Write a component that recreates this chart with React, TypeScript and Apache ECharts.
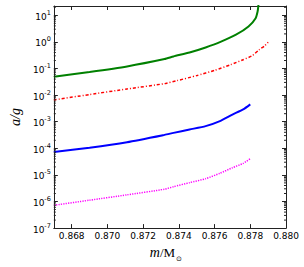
import React, { useEffect, useRef } from "react";
import * as echarts from "echarts";

// x: m / M_sun ; y: a/g (log scale)
const greenM = [0.867, 0.869, 0.8711, 0.8732, 0.8737, 0.8746, 0.8755, 0.8763, 0.8772, 0.8779, 0.8783, 0.87841, 0.87845, 0.87846];
const greenV = [0.049, 0.074, 0.12, 0.227, 0.284, 0.4, 0.62, 0.98, 1.86, 3.8, 7.8, 13.8, 22, 30];

const redM = [0.867, 0.869, 0.8711, 0.8732, 0.8739, 0.875, 0.876, 0.8769, 0.8776, 0.8781, 0.8785, 0.8788, 0.879];
const redV = [0.0066, 0.0105, 0.017, 0.027, 0.035, 0.054, 0.085, 0.139, 0.214, 0.3, 0.51, 0.71, 0.98];

const blueM = [0.867, 0.869, 0.8711, 0.8732, 0.8737, 0.8746, 0.8755, 0.8763, 0.877, 0.8776, 0.878];
const blueV = [7.2e-5, 1.05e-4, 1.7e-4, 3.2e-4, 3.8e-4, 5.1e-4, 6.8e-4, 1.05e-3, 1.86e-3, 2.9e-3, 4.5e-3];

const magentaM = [0.867, 0.869, 0.8711, 0.8732, 0.8737, 0.8746, 0.8755, 0.8763, 0.877, 0.8776, 0.878];
const magentaV = [7.2e-7, 1.12e-6, 1.78e-6, 2.9e-6, 3.6e-6, 5.1e-6, 7.2e-6, 1.15e-5, 1.86e-5, 2.7e-5, 4.1e-5];

const xMin = 0.867;
const xMax = 0.88;
const xStep = 0.002;
const yMinExp = -7;
const yMaxExp = 1.35;

const toPairs = (ms: number[], vs: number[]) => ms.map((m, i) => [m, Math.log10(vs[i])]);

export default function App() {
  const ref = useRef<HTMLDivElement>(null);
  useEffect(() => {
    if (!ref.current) return;
    const chart = echarts.init(ref.current, undefined, { renderer: "svg" });

    const minorTicks: number[][] = [];
    for (let n = yMinExp; n <= Math.floor(yMaxExp); n++) {
      for (let k = 2; k <= 9; k++) {
        const v = n + Math.log10(k);
        if (v < yMaxExp) minorTicks.push([xMin, v]);
      }
    }

    const axisLineStyle = { color: "#222", width: 1 };
    const baseX = {
      type: "value" as const,
      min: xMin,
      max: xMax,
      splitNumber: 6,
      minInterval: xStep,
      maxInterval: xStep,
      splitLine: { show: false },
      axisLine: { show: true, onZero: false, lineStyle: axisLineStyle },
      axisTick: { show: true, inside: true, length: 4, lineStyle: { color: "#222" } },
    };
    const baseY = {
      type: "value" as const,
      min: yMinExp,
      max: yMaxExp,
      interval: 1,
      splitLine: { show: false },
      axisLine: { show: true, onZero: false, lineStyle: axisLineStyle },
      axisTick: { show: true, inside: true, length: 4, lineStyle: { color: "#222" } },
    };

    const lineCommon = { showSymbol: false, smooth: 0.2, clip: true, xAxisIndex: 0, yAxisIndex: 0 };

    chart.setOption({
      animation: false,
      backgroundColor: "#fff",
      grid: { left: 40, right: 18, top: 6, bottom: 38, containLabel: false },
      xAxis: [
        {
          ...baseX,
          position: "bottom",
          name: "{i|m}{r|/M}{sub|⊙}",
          nameLocation: "middle",
          nameGap: 13,
          nameTextStyle: {
            padding: [0, 8, 0, 0],
            rich: {
              i: { fontFamily: "Liberation Serif", fontStyle: "italic", fontSize: 14, color: "#000", verticalAlign: "bottom" },
              r: { fontFamily: "Liberation Serif", fontSize: 13, color: "#000", verticalAlign: "bottom" },
              sub: { fontFamily: "DejaVu Sans", fontSize: 7, color: "#000", verticalAlign: "bottom", padding: [0, 0, -3, 1] },
            },
          },
          axisLabel: {
            show: true,
            showMinLabel: false,
            margin: 3,
            fontFamily: "DejaVu Sans",
            fontSize: 9,
            color: "#000",
            formatter: (v: number) => v.toFixed(3),
          },
        },
        {
          ...baseX,
          position: "top",
          axisLabel: { show: false },
        },
      ],
      yAxis: [
        {
          ...baseY,
          position: "left",
          name: "a/g",
          nameLocation: "middle",
          nameGap: 28,
          nameRotate: 90,
          nameTextStyle: { fontFamily: "Liberation Serif", fontStyle: "italic", fontSize: 14, color: "#000" },
          axisLabel: {
            show: true,
            showMaxLabel: false,
            margin: 3,
            formatter: (v: number) => `{b|10}{s|${Math.round(v)}}`,
            rich: {
              b: { fontFamily: "DejaVu Sans", fontSize: 9, color: "#000", verticalAlign: "bottom" },
              s: { fontFamily: "DejaVu Sans", fontSize: 6.5, color: "#000", verticalAlign: "bottom", padding: [0, 0, 5, 0] },
            },
          },
        },
        {
          ...baseY,
          position: "right",
          axisLabel: { show: false },
        },
      ],
      series: [
        {
          type: "custom",
          silent: true,
          xAxisIndex: 0,
          yAxisIndex: 0,
          data: minorTicks,
          z: 5,
          renderItem: (_params: any, api: any) => {
            const v = api.value(1);
            const l = api.coord([xMin, v]);
            const r = api.coord([xMax, v]);
            return {
              type: "group",
              children: [
                { type: "line", shape: { x1: l[0], y1: l[1], x2: l[0] + 2, y2: l[1] }, style: { stroke: "#222", lineWidth: 1 } },
                { type: "line", shape: { x1: r[0] - 2, y1: r[1], x2: r[0], y2: r[1] }, style: { stroke: "#222", lineWidth: 1 } },
              ],
            };
          },
        },
        {
          ...lineCommon,
          type: "line",
          data: toPairs(greenM, greenV),
          lineStyle: { color: "#008000", width: 2 },
        },
        {
          ...lineCommon,
          type: "line",
          data: toPairs(redM, redV),
          lineStyle: { color: "#ff0000", width: 1.5, type: [3, 2, 1, 2] },
        },
        {
          ...lineCommon,
          type: "line",
          data: toPairs(blueM, blueV),
          lineStyle: { color: "#0000ff", width: 2 },
        },
        {
          ...lineCommon,
          type: "line",
          data: toPairs(magentaM, magentaV),
          lineStyle: { color: "#ff00ff", width: 1.5, type: [1.2, 1.2] },
        },
      ],
    });
    return () => chart.dispose();
  }, []);
  return (
    <div
      ref={ref}
      style={{ position: "fixed", left: 0, top: 0, width: 304, height: 267, background: "#fff" }}
    />
  );
}
